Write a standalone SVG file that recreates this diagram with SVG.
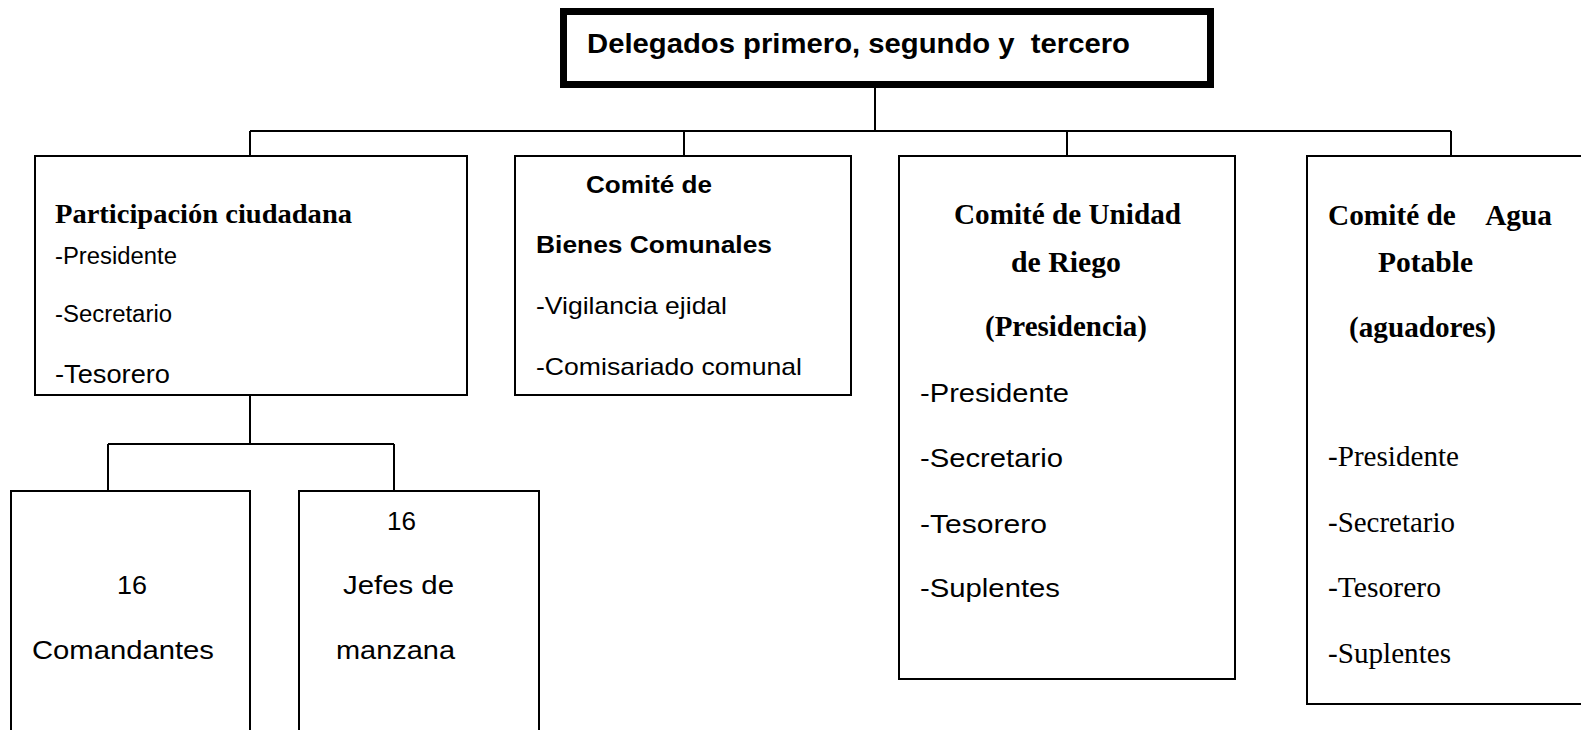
<svg xmlns="http://www.w3.org/2000/svg" width="1581" height="730" viewBox="0 0 1581 730">
<style>
.box{fill:#fff;stroke:#000;stroke-width:2}
.top{fill:#fff;stroke:#000;stroke-width:7}
.con{fill:none;stroke:#000;stroke-width:2}
.a{font-family:"Liberation Sans",Arial,sans-serif;fill:#000}
.ab{font-family:"Liberation Sans",Arial,sans-serif;font-weight:bold;fill:#000}
.s{font-family:"Liberation Serif","Times New Roman",serif;fill:#000}
.sb{font-family:"Liberation Serif","Times New Roman",serif;font-weight:bold;fill:#000}
</style>
<rect x="0" y="0" width="1581" height="730" fill="#fff"/>
<g id="connectors">
<path class="con" d="M875 88V131M250 131H1451M250 131V156M684 131V156M1067 131V156M1451 131V156"/>
<path class="con" d="M250 395V444M108 444H394M108 444V491M394 444V491"/>
</g>
<g id="n-top">
<rect class="top" x="563.5" y="11.5" width="647" height="73"/>
<text class="ab" x="587" y="53" font-size="28" textLength="543" lengthAdjust="spacingAndGlyphs">Delegados primero, segundo y&#160; tercero</text>
</g>
<g id="n-participacion">
<rect class="box" x="35" y="156" width="432" height="239"/>
<text class="sb" x="55" y="223" font-size="28" textLength="297" lengthAdjust="spacingAndGlyphs">Participación ciudadana</text>
<text class="a" x="55" y="264" font-size="23" textLength="122" lengthAdjust="spacingAndGlyphs">-Presidente</text>
<text class="a" x="55" y="322" font-size="23" textLength="117" lengthAdjust="spacingAndGlyphs">-Secretario</text>
<text class="a" x="55" y="383" font-size="25" textLength="115" lengthAdjust="spacingAndGlyphs">-Tesorero</text>
</g>
<g id="n-bienes">
<rect class="box" x="515" y="156" width="336" height="239"/>
<text class="ab" x="586" y="193" font-size="24" textLength="126" lengthAdjust="spacingAndGlyphs">Comité de</text>
<text class="ab" x="536" y="253" font-size="24" textLength="236" lengthAdjust="spacingAndGlyphs">Bienes Comunales</text>
<text class="a" x="536" y="314" font-size="24" textLength="191" lengthAdjust="spacingAndGlyphs">-Vigilancia ejidal</text>
<text class="a" x="536" y="375" font-size="24" textLength="266" lengthAdjust="spacingAndGlyphs">-Comisariado comunal</text>
</g>
<g id="n-riego">
<rect class="box" x="899" y="156" width="336" height="523"/>
<text class="sb" x="954" y="224" font-size="29" textLength="227" lengthAdjust="spacingAndGlyphs">Comité de Unidad</text>
<text class="sb" x="1011" y="272" font-size="29" textLength="110" lengthAdjust="spacingAndGlyphs">de Riego</text>
<text class="sb" x="985" y="336" font-size="29" textLength="162" lengthAdjust="spacingAndGlyphs">(Presidencia)</text>
<text class="a" x="920" y="402" font-size="26.5" textLength="149" lengthAdjust="spacingAndGlyphs">-Presidente</text>
<text class="a" x="920" y="467" font-size="26.5" textLength="143" lengthAdjust="spacingAndGlyphs">-Secretario</text>
<text class="a" x="920" y="533" font-size="26.5" textLength="127" lengthAdjust="spacingAndGlyphs">-Tesorero</text>
<text class="a" x="920" y="597" font-size="26.5" textLength="140" lengthAdjust="spacingAndGlyphs">-Suplentes</text>
</g>
<g id="n-agua">
<rect class="box" x="1307" y="156" width="290" height="548"/>
<text class="sb" x="1328" y="225" font-size="29" textLength="224" lengthAdjust="spacingAndGlyphs">Comité de&#160;&#160;&#160;&#160;Agua</text>
<text class="sb" x="1378" y="272" font-size="29" textLength="95" lengthAdjust="spacingAndGlyphs">Potable</text>
<text class="sb" x="1349" y="337" font-size="29" textLength="147" lengthAdjust="spacingAndGlyphs">(aguadores)</text>
<text class="s" x="1328" y="466" font-size="29" textLength="131" lengthAdjust="spacingAndGlyphs">-Presidente</text>
<text class="s" x="1328" y="532" font-size="29" textLength="127" lengthAdjust="spacingAndGlyphs">-Secretario</text>
<text class="s" x="1328" y="597" font-size="29" textLength="113" lengthAdjust="spacingAndGlyphs">-Tesorero</text>
<text class="s" x="1328" y="663" font-size="29" textLength="123" lengthAdjust="spacingAndGlyphs">-Suplentes</text>
</g>
<g id="n-comandantes">
<rect class="box" x="11" y="491" width="239" height="260"/>
<text class="a" x="117" y="594" font-size="26.5" textLength="30" lengthAdjust="spacingAndGlyphs">16</text>
<text class="a" x="32" y="659" font-size="26.5" textLength="182" lengthAdjust="spacingAndGlyphs">Comandantes</text>
</g>
<g id="n-jefes">
<rect class="box" x="299" y="491" width="240" height="260"/>
<text class="a" x="387" y="530" font-size="26.5" textLength="29" lengthAdjust="spacingAndGlyphs">16</text>
<text class="a" x="343" y="594" font-size="26.5" textLength="111" lengthAdjust="spacingAndGlyphs">Jefes de</text>
<text class="a" x="336" y="659" font-size="26.5" textLength="119" lengthAdjust="spacingAndGlyphs">manzana</text>
</g>
</svg>
